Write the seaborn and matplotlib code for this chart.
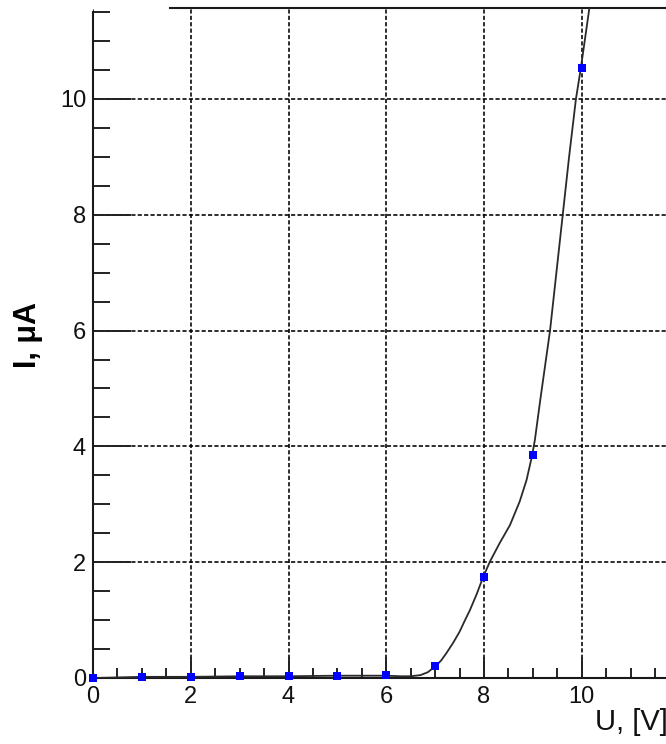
import matplotlib
matplotlib.use("Agg")
import matplotlib.pyplot as plt
import seaborn as sns
import pandas as pd
from matplotlib.ticker import MultipleLocator, FixedLocator

# measured points
u_points = [0, 1, 2, 3, 4, 5, 6, 7, 8, 9, 10]
i_points = [0.0, 0.02, 0.02, 0.03, 0.03, 0.04, 0.05, 0.2, 1.75, 3.85, 10.53]

# smooth fitted curve
u_curve = [0, 1, 2, 3, 4, 5, 6, 6.3, 6.5, 6.7, 6.85, 7.0, 7.12, 7.23, 7.37,
           7.5, 7.6, 7.71, 7.85, 7.98, 8.12, 8.32, 8.53, 8.73, 8.87, 8.98,
           9.04, 9.15, 9.35, 9.48, 9.61, 9.74, 9.88, 9.98, 10.16]
i_curve = [0.0, 0.02, 0.02, 0.03, 0.03, 0.04, 0.04, 0.03, 0.03, 0.05, 0.1, 0.2,
           0.3, 0.43, 0.61, 0.8, 0.98, 1.17, 1.45, 1.74, 2.01, 2.33, 2.64, 3.05,
           3.42, 3.83, 4.11, 4.8, 6.0, 7.0, 8.0, 9.0, 10.0, 10.53, 11.6]

x_major = [0, 2, 4, 6, 8, 10, 12]
y_major = [0, 2, 4, 6, 8, 10]

sns.set_theme(style="white")
plt.rcParams['font.family'] = ['Liberation Sans', 'DejaVu Sans']

fig = plt.figure(figsize=(6.66, 7.44), dpi=100)
ax = fig.add_axes([93/666, 66/744, 611/666, 670.5/744])

df_curve = pd.DataFrame({"U": u_curve, "I": i_curve})
df_pts = pd.DataFrame({"U": u_points, "I": i_points})

sns.lineplot(data=df_curve, x="U", y="I", ax=ax, color="#2a2a2a", linewidth=1.3,
             sort=False, estimator=None, zorder=3)
sns.scatterplot(data=df_pts, x="U", y="I", ax=ax, color="#0000ff", marker="s",
                s=36, linewidth=0, zorder=4, clip_on=False)

ax.set_xlim(0, 12.5)
ax.set_ylim(0, 11.58)

ax.xaxis.set_major_locator(FixedLocator(x_major))
ax.xaxis.set_minor_locator(MultipleLocator(0.5))
ax.yaxis.set_major_locator(FixedLocator(y_major))
ax.yaxis.set_minor_locator(MultipleLocator(0.5))

ax.grid(True, which="major", color="black", linestyle=(0, (2.6, 1.4)), linewidth=1.15)

for s in ["left", "bottom", "top"]:
    ax.spines[s].set_visible(True)
    ax.spines[s].set_color("#1a1a1a")
    ax.spines[s].set_linewidth(1.5)
ax.spines["right"].set_visible(False)
ax.spines["left"].set_bounds(0, 11.5)
ax.spines["top"].set_bounds(1.57, 12.5)

ax.tick_params(axis="y", which="major", direction="in", length=27, width=1.4,
               pad=5, labelsize=17, color="#222222", labelcolor="#111111", left=True)
ax.tick_params(axis="y", which="minor", direction="in", length=12, width=1.4,
               color="#222222", left=True)
ax.tick_params(axis="x", which="major", direction="in", length=15, width=1.4,
               pad=6, labelsize=17, color="#222222", labelcolor="#111111", bottom=True)
ax.tick_params(axis="x", which="minor", direction="in", length=7, width=1.4,
               color="#222222", bottom=True)

ax.set_ylabel("I, μA", fontsize=22, fontweight="bold", color="black")
ax.yaxis.set_label_coords(-0.082, 0.512)

ax.set_xlabel("U, [V]", fontsize=21, color="#111111")
ax.xaxis.label.set_ha("left")
ax.xaxis.set_label_coords(0.822, -0.045)

fig.savefig("out.png", dpi=100)
